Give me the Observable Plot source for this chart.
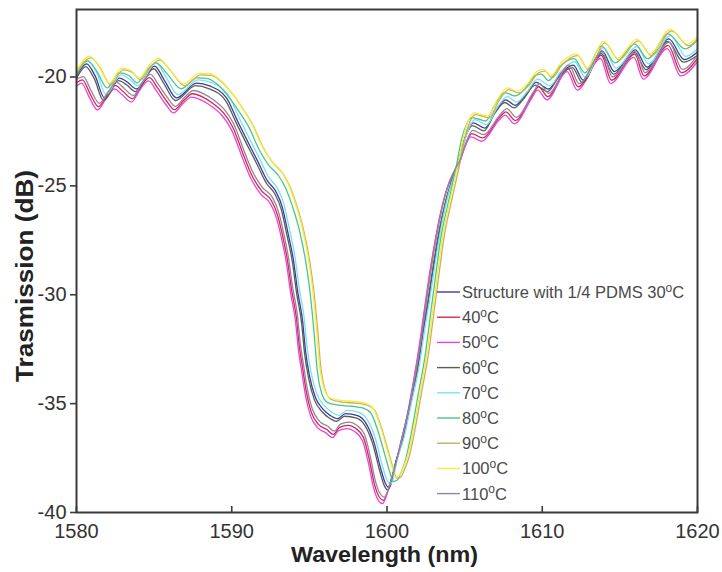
<!DOCTYPE html>
<html>
<head>
<meta charset="utf-8">
<script src="https://cdn.jsdelivr.net/npm/d3@7"></script>
<script src="https://cdn.jsdelivr.net/npm/@observablehq/plot@0.6"></script>
<style>
  html, body { margin: 0; padding: 0; background: #fff; }
  #chart { width: 722px; height: 572px; }
</style>
</head>
<body>
<div id="chart"></div>
<script>
// ---- Data (wavelength nm, transmission dB) ----
const seriesNames = ["Structure with 1/4 PDMS 30", "40", "50", "60", "70", "80", "90", "100", "110"];
const seriesColors = ["#3a3aa6", "#d42848", "#e646e0", "#5e5e4e", "#78e2f0", "#46c88a", "#d2aa62", "#f0f03c", "#9484a4"];
const xTicks = [1580, 1590, 1600, 1610, 1620];
const yTicks = [-40, -35, -30, -25, -20];

const s30 = [[1580.00,-19.95],[1580.65,-19.40],[1581.20,-19.95],[1581.80,-20.96],[1582.77,-20.05],[1583.30,-20.25],[1583.86,-20.55],[1585.02,-19.50],[1585.70,-20.20],[1586.44,-20.96],[1587.73,-20.28],[1588.57,-20.41],[1589.66,-20.96],[1590.37,-22.02],[1591.01,-22.94],[1591.66,-23.85],[1592.30,-24.77],[1592.82,-25.23],[1593.27,-26.01],[1593.59,-27.06],[1593.98,-28.44],[1594.24,-29.82],[1594.56,-31.19],[1594.75,-32.57],[1595.01,-33.72],[1595.39,-34.72],[1595.85,-35.23],[1596.36,-35.55],[1596.81,-35.69],[1597.33,-35.46],[1598.10,-35.55],[1598.62,-35.87],[1599.13,-36.70],[1599.58,-37.94],[1599.90,-38.67],[1600.10,-38.85],[1600.29,-38.62],[1600.55,-37.75],[1601.00,-36.70],[1601.51,-35.00],[1601.96,-33.49],[1602.35,-31.65],[1602.67,-30.28],[1603.06,-28.44],[1603.45,-26.83],[1603.83,-25.60],[1604.22,-24.68],[1604.61,-23.85],[1604.93,-23.03],[1605.25,-22.39],[1605.57,-22.11],[1606.30,-22.35],[1607.00,-21.55],[1607.65,-21.05],[1608.25,-21.30],[1608.90,-20.85],[1609.60,-20.25],[1610.40,-20.55],[1611.10,-19.90],[1612.00,-19.45],[1612.65,-20.15],[1613.85,-18.80],[1614.65,-19.75],[1616.00,-18.75],[1616.75,-19.55],[1618.15,-18.25],[1619.15,-19.20],[1620.00,-18.85]];

const s40 = [[1580.00,-20.26],[1580.38,-20.13],[1580.90,-20.81],[1581.41,-21.36],[1581.99,-20.81],[1582.51,-20.40],[1583.02,-20.68],[1583.60,-21.00],[1584.18,-20.40],[1584.70,-20.03],[1585.21,-20.49],[1585.79,-21.09],[1586.31,-21.50],[1586.89,-21.09],[1587.47,-20.77],[1588.11,-20.91],[1588.82,-21.23],[1589.46,-21.64],[1590.06,-22.30],[1590.75,-23.57],[1591.27,-24.48],[1591.91,-25.22],[1592.56,-25.68],[1592.94,-26.32],[1593.26,-27.24],[1593.59,-28.43],[1593.86,-29.80],[1594.16,-31.04],[1594.36,-32.42],[1594.56,-33.35],[1594.81,-34.48],[1595.13,-35.40],[1595.58,-35.95],[1596.10,-36.18],[1596.55,-36.41],[1596.94,-36.09],[1597.52,-36.00],[1597.97,-36.13],[1598.48,-36.55],[1598.87,-37.60],[1599.19,-38.70],[1599.51,-39.30],[1599.77,-39.44],[1599.96,-39.21],[1600.22,-38.61],[1600.54,-37.83],[1600.93,-36.68],[1601.38,-35.31],[1601.77,-33.79],[1602.09,-32.42],[1602.41,-30.81],[1602.73,-29.21],[1603.12,-27.51],[1603.51,-26.09],[1603.89,-25.08],[1604.28,-24.44],[1604.67,-23.93],[1604.99,-23.24],[1605.46,-22.60],[1606.16,-22.80],[1607.26,-21.85],[1607.66,-21.60],[1608.26,-22.00],[1609.36,-20.85],[1609.76,-20.45],[1610.36,-20.90],[1611.66,-19.60],[1612.31,-20.45],[1613.81,-19.00],[1614.46,-20.15],[1615.96,-18.95],[1616.56,-19.95],[1618.11,-18.55],[1618.96,-19.80],[1620.00,-19.15]];

const s50 = [[1580.00,-20.41],[1580.32,-20.28],[1580.84,-20.96],[1581.35,-21.51],[1581.93,-20.96],[1582.45,-20.55],[1582.96,-20.83],[1583.54,-21.15],[1584.12,-20.55],[1584.64,-20.18],[1585.15,-20.64],[1585.73,-21.24],[1586.25,-21.65],[1586.83,-21.24],[1587.41,-20.92],[1588.05,-21.06],[1588.76,-21.38],[1589.40,-21.79],[1590.00,-22.45],[1590.69,-23.72],[1591.21,-24.63],[1591.85,-25.37],[1592.50,-25.83],[1592.88,-26.47],[1593.20,-27.39],[1593.53,-28.58],[1593.80,-29.95],[1594.10,-31.19],[1594.30,-32.57],[1594.50,-33.50],[1594.75,-34.63],[1595.07,-35.55],[1595.52,-36.10],[1596.04,-36.33],[1596.49,-36.56],[1596.88,-36.24],[1597.46,-36.15],[1597.91,-36.28],[1598.42,-36.70],[1598.81,-37.75],[1599.13,-38.85],[1599.45,-39.45],[1599.71,-39.59],[1599.90,-39.36],[1600.16,-38.76],[1600.48,-37.98],[1600.87,-36.83],[1601.32,-35.46],[1601.71,-33.94],[1602.03,-32.57],[1602.35,-30.96],[1602.67,-29.36],[1603.06,-27.66],[1603.45,-26.24],[1603.83,-25.23],[1604.22,-24.59],[1604.61,-24.08],[1604.93,-23.39],[1605.40,-22.75],[1606.10,-22.95],[1607.20,-22.00],[1607.60,-21.75],[1608.20,-22.15],[1609.30,-21.00],[1609.70,-20.60],[1610.30,-21.05],[1611.60,-19.75],[1612.25,-20.60],[1613.75,-19.15],[1614.40,-20.30],[1615.90,-19.10],[1616.50,-20.10],[1618.05,-18.70],[1618.90,-19.95],[1620.00,-19.30]];

const s60 = [[1580.00,-20.07],[1580.59,-19.52],[1581.14,-20.07],[1581.74,-21.08],[1582.71,-20.17],[1583.24,-20.37],[1583.80,-20.67],[1584.96,-19.62],[1585.64,-20.32],[1586.38,-21.08],[1587.67,-20.40],[1588.51,-20.53],[1589.60,-21.08],[1590.31,-22.14],[1590.95,-23.06],[1591.60,-23.97],[1592.24,-24.89],[1592.76,-25.35],[1593.21,-26.13],[1593.53,-27.18],[1593.92,-28.56],[1594.18,-29.94],[1594.50,-31.31],[1594.69,-32.69],[1594.95,-33.84],[1595.33,-34.84],[1595.79,-35.35],[1596.30,-35.67],[1596.75,-35.81],[1597.27,-35.58],[1598.04,-35.67],[1598.56,-35.99],[1599.07,-36.82],[1599.52,-38.06],[1599.84,-38.79],[1600.04,-38.97],[1600.23,-38.74],[1600.49,-37.87],[1600.94,-36.82],[1601.45,-35.12],[1601.90,-33.61],[1602.29,-31.77],[1602.61,-30.40],[1603.00,-28.56],[1603.39,-26.95],[1603.77,-25.72],[1604.16,-24.80],[1604.55,-23.97],[1604.87,-23.15],[1605.19,-22.51],[1605.51,-22.23],[1606.24,-22.47],[1606.94,-21.67],[1607.59,-21.17],[1608.19,-21.42],[1608.84,-20.97],[1609.54,-20.37],[1610.34,-20.67],[1611.04,-20.02],[1611.94,-19.57],[1612.59,-20.27],[1613.79,-18.92],[1614.59,-19.87],[1615.94,-18.87],[1616.69,-19.67],[1618.09,-18.37],[1619.09,-19.32],[1620.00,-19.00]];

const s70 = [[1580.00,-19.85],[1580.75,-19.25],[1581.30,-19.80],[1581.90,-20.81],[1582.87,-19.90],[1583.40,-20.10],[1583.96,-20.40],[1585.12,-19.35],[1585.80,-20.05],[1586.54,-20.81],[1587.83,-20.13],[1588.67,-20.26],[1589.76,-20.81],[1590.47,-21.87],[1591.11,-22.79],[1591.76,-23.70],[1592.40,-24.62],[1592.92,-25.08],[1593.37,-25.86],[1593.69,-26.91],[1594.08,-28.29],[1594.34,-29.67],[1594.66,-31.04],[1594.85,-32.42],[1595.11,-33.57],[1595.49,-34.57],[1595.95,-35.08],[1596.46,-35.40],[1596.91,-35.54],[1597.43,-35.31],[1598.20,-35.40],[1598.72,-35.72],[1599.23,-36.55],[1599.68,-37.79],[1600.00,-38.52],[1600.20,-38.70],[1600.39,-38.47],[1600.65,-37.60],[1601.10,-36.55],[1601.61,-34.85],[1602.06,-33.34],[1602.45,-31.50],[1602.77,-30.13],[1603.16,-28.29],[1603.55,-26.68],[1603.93,-25.45],[1604.32,-24.53],[1604.71,-23.70],[1605.03,-22.88],[1605.35,-22.24],[1605.67,-21.96],[1606.40,-22.20],[1607.10,-21.40],[1607.75,-20.90],[1608.35,-21.15],[1609.00,-20.70],[1609.70,-20.10],[1610.50,-20.40],[1611.20,-19.75],[1612.10,-19.30],[1612.75,-20.00],[1613.95,-18.65],[1614.75,-19.60],[1616.10,-18.60],[1616.85,-19.40],[1618.25,-18.10],[1619.25,-19.05],[1620.00,-18.70]];

const s80 = [[1580.00,-19.90],[1580.69,-19.26],[1581.25,-19.67],[1581.98,-20.50],[1582.75,-19.81],[1583.35,-19.92],[1583.91,-20.27],[1584.55,-19.67],[1585.13,-19.35],[1585.85,-19.87],[1586.74,-20.54],[1587.77,-20.04],[1588.45,-20.07],[1589.05,-20.32],[1589.90,-21.00],[1590.55,-21.67],[1591.15,-22.37],[1591.75,-23.32],[1592.35,-24.02],[1593.05,-24.57],[1593.45,-25.07],[1593.90,-25.92],[1594.35,-27.02],[1594.75,-28.42],[1595.05,-29.92],[1595.30,-31.72],[1595.50,-33.42],[1595.75,-34.42],[1596.15,-34.94],[1596.85,-35.07],[1597.75,-35.12],[1598.45,-35.20],[1598.95,-35.42],[1599.40,-36.22],[1599.85,-37.32],[1600.15,-38.07],[1600.40,-38.57],[1600.65,-38.52],[1600.90,-38.17],[1601.20,-37.57],[1601.55,-36.42],[1602.00,-34.62],[1602.45,-32.82],[1602.80,-30.92],[1603.15,-29.02],[1603.45,-27.47],[1603.85,-26.07],[1604.20,-24.97],[1604.50,-23.97],[1604.80,-22.87],[1605.10,-22.22],[1605.45,-21.87],[1605.90,-21.94],[1606.35,-22.02],[1606.95,-21.27],[1607.60,-20.72],[1608.25,-20.87],[1608.85,-20.57],[1609.55,-19.94],[1609.95,-19.87],[1610.40,-20.17],[1611.05,-19.58],[1612.05,-19.16],[1612.75,-19.81],[1613.80,-18.57],[1614.70,-19.35],[1615.95,-18.48],[1616.80,-19.16],[1618.10,-18.02],[1619.20,-18.71],[1620.00,-18.30]];

const s90 = [[1580.00,-19.80],[1580.92,-19.12],[1581.48,-19.53],[1582.21,-20.36],[1582.98,-19.67],[1583.58,-19.78],[1584.14,-20.13],[1584.78,-19.53],[1585.36,-19.21],[1586.08,-19.73],[1586.97,-20.40],[1588.00,-19.90],[1588.68,-19.93],[1589.28,-20.18],[1590.13,-20.86],[1590.78,-21.53],[1591.38,-22.23],[1591.98,-23.18],[1592.58,-23.88],[1593.28,-24.43],[1593.68,-24.93],[1594.13,-25.78],[1594.58,-26.88],[1594.98,-28.28],[1595.28,-29.78],[1595.53,-31.58],[1595.73,-33.28],[1595.98,-34.28],[1596.38,-34.80],[1597.08,-34.93],[1597.98,-34.98],[1598.68,-35.06],[1599.18,-35.28],[1599.63,-36.08],[1600.08,-37.18],[1600.38,-37.93],[1600.63,-38.43],[1600.88,-38.38],[1601.13,-38.03],[1601.43,-37.43],[1601.78,-36.28],[1602.23,-34.48],[1602.68,-32.68],[1603.03,-30.78],[1603.38,-28.88],[1603.68,-27.33],[1604.08,-25.93],[1604.43,-24.83],[1604.73,-23.83],[1605.03,-22.73],[1605.33,-22.08],[1605.68,-21.73],[1606.13,-21.80],[1606.58,-21.88],[1607.18,-21.13],[1607.83,-20.58],[1608.48,-20.73],[1609.08,-20.43],[1609.78,-19.80],[1610.18,-19.73],[1610.63,-20.03],[1611.28,-19.44],[1612.28,-19.02],[1612.98,-19.67],[1614.03,-18.43],[1614.93,-19.21],[1616.18,-18.34],[1617.03,-19.02],[1618.33,-17.88],[1619.43,-18.57],[1620.00,-18.25]];

const s100 = [[1580.00,-19.72],[1580.84,-19.04],[1581.40,-19.45],[1582.13,-20.28],[1582.90,-19.59],[1583.50,-19.70],[1584.06,-20.05],[1584.70,-19.45],[1585.28,-19.13],[1586.00,-19.65],[1586.89,-20.32],[1587.92,-19.82],[1588.60,-19.85],[1589.20,-20.10],[1590.05,-20.78],[1590.70,-21.45],[1591.30,-22.15],[1591.90,-23.10],[1592.50,-23.80],[1593.20,-24.35],[1593.60,-24.85],[1594.05,-25.70],[1594.50,-26.80],[1594.90,-28.20],[1595.20,-29.70],[1595.45,-31.50],[1595.65,-33.20],[1595.90,-34.20],[1596.30,-34.72],[1597.00,-34.85],[1597.90,-34.90],[1598.60,-34.98],[1599.10,-35.20],[1599.55,-36.00],[1600.00,-37.10],[1600.30,-37.85],[1600.55,-38.35],[1600.80,-38.30],[1601.05,-37.95],[1601.35,-37.35],[1601.70,-36.20],[1602.15,-34.40],[1602.60,-32.60],[1602.95,-30.70],[1603.30,-28.80],[1603.60,-27.25],[1604.00,-25.85],[1604.35,-24.75],[1604.65,-23.75],[1604.95,-22.65],[1605.25,-22.00],[1605.60,-21.65],[1606.05,-21.72],[1606.50,-21.80],[1607.10,-21.05],[1607.75,-20.50],[1608.40,-20.65],[1609.00,-20.35],[1609.70,-19.72],[1610.10,-19.65],[1610.55,-19.95],[1611.20,-19.36],[1612.20,-18.94],[1612.90,-19.59],[1613.95,-18.35],[1614.85,-19.13],[1616.10,-18.26],[1616.95,-18.94],[1618.25,-17.80],[1619.35,-18.49],[1620.00,-18.12]];

const s110 = [[1580.00,-20.11],[1580.44,-19.98],[1580.96,-20.66],[1581.47,-21.21],[1582.05,-20.66],[1582.57,-20.25],[1583.08,-20.53],[1583.66,-20.85],[1584.24,-20.25],[1584.76,-19.88],[1585.27,-20.34],[1585.85,-20.94],[1586.37,-21.35],[1586.95,-20.94],[1587.53,-20.62],[1588.17,-20.76],[1588.88,-21.08],[1589.52,-21.49],[1590.12,-22.15],[1590.81,-23.42],[1591.33,-24.33],[1591.97,-25.07],[1592.62,-25.53],[1593.00,-26.17],[1593.32,-27.09],[1593.65,-28.28],[1593.92,-29.65],[1594.22,-30.89],[1594.42,-32.27],[1594.62,-33.20],[1594.87,-34.33],[1595.19,-35.25],[1595.64,-35.80],[1596.16,-36.03],[1596.61,-36.26],[1597.00,-35.94],[1597.58,-35.85],[1598.03,-35.98],[1598.54,-36.40],[1598.93,-37.45],[1599.25,-38.55],[1599.57,-39.15],[1599.83,-39.29],[1600.02,-39.06],[1600.28,-38.46],[1600.60,-37.68],[1600.99,-36.53],[1601.44,-35.16],[1601.83,-33.64],[1602.15,-32.27],[1602.47,-30.66],[1602.79,-29.06],[1603.18,-27.36],[1603.57,-25.94],[1603.95,-24.93],[1604.34,-24.29],[1604.73,-23.78],[1605.05,-23.09],[1605.52,-22.45],[1606.22,-22.65],[1607.32,-21.70],[1607.72,-21.45],[1608.32,-21.85],[1609.42,-20.70],[1609.82,-20.30],[1610.42,-20.75],[1611.72,-19.45],[1612.37,-20.30],[1613.87,-18.85],[1614.52,-20.00],[1616.02,-18.80],[1616.62,-19.80],[1618.17,-18.40],[1619.02,-19.65],[1620.00,-19.00]];

const seriesValues = [s30, s40, s50, s60, s70, s80, s90, s100, s110];

// ---- Build table ----
const rows = [];
seriesValues.forEach((pts, i) => {
  pts.forEach(([x, y]) => rows.push({series: seriesNames[i], wl: x, db: y}));
});

const W = 722, H = 572;
const mL = 76, mR = 25, mT = 9, mB = 60;
const font = "'Liberation Sans', Arial, Helvetica, sans-serif";

const plot = Plot.plot({
  width: W,
  height: H,
  marginLeft: mL,
  marginRight: mR,
  marginTop: mT,
  marginBottom: mB,
  style: {fontFamily: font, fontSize: "20px", color: "#333", background: "#fff", overflow: "visible"},
  x: {domain: [1580, 1620], label: null},
  y: {domain: [-40, -16.9], label: null},
  color: {domain: seriesNames, range: seriesColors},
  marks: [
    Plot.line(rows, {x: "wl", y: "db", z: "series", stroke: "series", strokeWidth: 1.3, curve: "monotone-x"}),
    Plot.frame({stroke: "#3a3a3a", strokeWidth: 2}),
    Plot.tickX(xTicks, {x: d => d, insetTop: (H - mT - mB) - 6, stroke: "#3a3a3a", strokeWidth: 1.6}),
    Plot.axisX({ticks: xTicks, tickSize: 0, tickPadding: 11, tickFormat: d => String(d), fill: "#333"}),
    Plot.axisY({ticks: yTicks, tickSize: 6, tickPadding: 4, tickFormat: d => String(d), fill: "#333", stroke: "#3a3a3a", strokeWidth: 1.6})
  ]
});

document.getElementById("chart").appendChild(plot);

// ---- Titles and legend (layout elements) ----
const svg = d3.select(plot);

svg.append("text")
  .attr("x", mL + (W - mL - mR) / 2 - 2)
  .attr("y", 562)
  .attr("text-anchor", "middle")
  .attr("font-family", font)
  .attr("font-weight", "bold")
  .attr("font-size", 22)
  .attr("fill", "#222")
  .attr("textLength", 187)
  .attr("lengthAdjust", "spacingAndGlyphs")
  .text("Wavelength (nm)");

svg.append("text")
  .attr("transform", "translate(33,276) rotate(-90)")
  .attr("text-anchor", "middle")
  .attr("font-family", font)
  .attr("font-weight", "bold")
  .attr("font-size", 23)
  .attr("fill", "#222")
  .attr("textLength", 212)
  .attr("lengthAdjust", "spacingAndGlyphs")
  .text("Trasmission (dB)");

const lg = svg.append("g")
  .attr("font-family", font)
  .attr("font-size", 16.5)
  .attr("fill", "#4a4a4a")
  .attr("text-anchor", "start");
const lgX = 437, lgY = 292, lgStep = 25.2;
seriesNames.forEach((name, i) => {
  const y = lgY + i * lgStep;
  lg.append("line")
    .attr("x1", lgX).attr("x2", lgX + 23)
    .attr("y1", y).attr("y2", y)
    .attr("stroke", seriesColors[i]).attr("stroke-width", 1.4);
  const t = lg.append("text").attr("x", lgX + 25).attr("y", y + 6).attr("text-anchor", "start");
  t.append("tspan").text(name);
  t.append("tspan").attr("dy", -6.5).attr("font-size", 12).text("o");
  t.append("tspan").attr("dy", 6.5).text("C");
});
</script>
</body>
</html>
